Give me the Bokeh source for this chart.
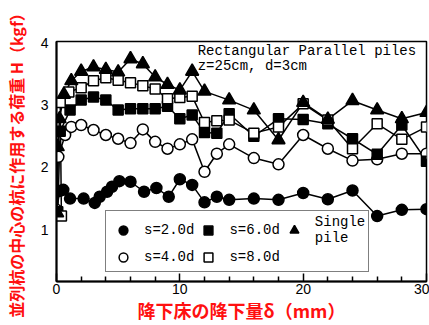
from bokeh.plotting import figure
from bokeh.models import Range1d, FixedTicker, Legend, LegendItem, Label
from bokeh.embed import file_html
from bokeh.resources import INLINE

# ---- data ----
s2_x = [0, 0.25, 0.55, 1.1, 2.2, 3.1, 3.5, 4.1, 4.5, 5.1, 6.0, 7.1, 8.1, 9.1, 10.0, 11.0, 12.0, 13.0, 14.0, 16.0, 18.0, 20.0, 22.0, 24.0, 26.0, 28.0, 30.0]
s2_y = [1.28, 1.62, 1.64, 1.50, 1.50, 1.43, 1.53, 1.61, 1.69, 1.78, 1.77, 1.61, 1.67, 1.53, 1.81, 1.72, 1.44, 1.53, 1.48, 1.50, 1.48, 1.59, 1.49, 1.63, 1.22, 1.32, 1.33]

s4_x = [0, 0.15, 0.7, 1.2, 2.0, 3.0, 4.0, 5.0, 6.0, 7.0, 8.0, 9.0, 10.0, 11.0, 12.0, 13.0, 14.0, 16.0, 18.0, 20.0, 22.0, 24.0, 26.0, 28.0, 30.0]
s4_y = [1.32, 2.17, 2.52, 2.65, 2.68, 2.60, 2.52, 2.46, 2.39, 2.61, 2.41, 2.30, 2.37, 2.45, 1.93, 2.22, 2.37, 2.15, 2.05, 2.52, 2.30, 2.11, 2.13, 2.22, 2.22]

s6_x = [0.1, 0.3, 1.1, 2.0, 3.0, 4.0, 5.0, 6.0, 7.0, 8.0, 9.0, 10.0, 11.0, 12.0, 13.0, 14.0, 16.0, 18.0, 20.0, 22.0, 24.0, 26.0, 28.0, 30.0]
s6_y = [1.29, 2.58, 2.92, 3.08, 3.13, 3.08, 2.92, 2.94, 2.94, 2.94, 2.98, 2.78, 2.84, 2.56, 2.55, 2.86, 2.50, 2.78, 2.77, 2.70, 2.46, 2.21, 2.68, 2.10]

s8_x = [0.4, 0.3, 1.0, 2.0, 3.0, 4.0, 5.0, 6.0, 7.0, 8.0, 9.0, 10.0, 11.0, 12.0, 13.0, 14.0, 16.0, 18.0, 20.0, 22.0, 24.0, 26.0, 28.0, 30.0]
s8_y = [1.22, 3.04, 3.21, 3.28, 3.39, 3.44, 3.40, 3.36, 3.31, 3.26, 3.10, 3.12, 3.14, 2.72, 2.75, 2.76, 2.55, 2.65, 3.02, 2.76, 2.30, 2.70, 2.45, 2.65]

single_x = [0.05, 0.1, 0.25, 0.6, 1.2, 2.0, 3.0, 4.0, 5.0, 6.0, 7.0, 8.0, 9.0, 10.0, 11.0, 12.0, 14.0, 16.0, 18.0, 20.0, 22.0, 24.0, 26.0, 28.0, 30.0]
single_y = [1.27, 2.33, 2.78, 3.17, 3.39, 3.54, 3.61, 3.57, 3.53, 3.74, 3.66, 3.45, 3.33, 3.24, 3.54, 3.22, 3.08, 2.92, 2.44, 3.04, 2.77, 3.07, 2.92, 2.78, 2.88]

x_major_ticks = [0, 10, 20, 30]
x_minor_ticks = [2, 4, 6, 8, 12, 14, 16, 18, 22, 24, 26, 28]
y_ticks = [1, 2, 3, 4]

x_label = "降下床の降下量δ（mm）"
y_label = "並列杭の中心の杭に作用する荷重 H（kgf）"
note1 = "Rectangular Parallel piles"
note2 = "z=25cm, d=3cm"

# ---- figure ----
p = figure(width=429, height=325, output_backend="svg", toolbar_location=None,
           x_range=Range1d(0, 30), y_range=Range1d(0.17, 4.02),
           min_border_left=55, min_border_right=3, min_border_top=41, min_border_bottom=44,
           background_fill_color="white", border_fill_color="white")
p.grid.visible = False
p.outline_line_color = "black"
p.outline_line_width = 1.5

xa = p.xaxis[0]
xa.ticker = FixedTicker(ticks=x_major_ticks, minor_ticks=x_minor_ticks)
xa.major_tick_in = 8
xa.major_tick_out = 0
xa.minor_tick_in = 5
xa.minor_tick_out = 0
xa.axis_line_width = 2
xa.major_tick_line_width = 1.5
xa.minor_tick_line_width = 1.5
xa.major_label_text_font = "Liberation Sans"
xa.major_label_text_font_size = "14px"
xa.major_label_text_color = "black"
xa.major_label_standoff = 2
xa.axis_label = x_label
xa.axis_label_text_font = "Noto Sans CJK JP"
xa.axis_label_text_font_size = "18px"
xa.axis_label_text_font_style = "bold"
xa.axis_label_text_color = "#ff1010"
xa.axis_label_standoff = 0

ya = p.yaxis[0]
ya.ticker = FixedTicker(ticks=y_ticks)
ya.major_tick_in = 0
ya.major_tick_out = 0
ya.minor_tick_in = 0
ya.minor_tick_out = 0
ya.axis_line_width = 2
ya.major_label_text_font = "Liberation Sans"
ya.major_label_text_font_size = "14px"
ya.major_label_text_color = "black"
ya.major_label_standoff = 8
ya.axis_label = y_label
ya.axis_label_text_font = "Noto Sans CJK JP"
ya.axis_label_text_font_size = "16px"
ya.axis_label_text_font_style = "bold"
ya.axis_label_text_color = "#ff1010"
ya.axis_label_standoff = 10

series = [
    (s2_x, s2_y, "circle", 11, "black"),
    (s4_x, s4_y, "circle", 11, "white"),
    (s6_x, s6_y, "square", 10, "black"),
    (s8_x, s8_y, "square", 10, "white"),
    (single_x, single_y, "triangle", 13, "black"),
]
for xs, ys, m, sz, fc in series:
    p.line(xs, ys, line_color="black", line_width=1.5)
marks = []
for xs, ys, m, sz, fc in series:
    r = p.scatter(xs, ys, marker=m, size=sz, fill_color=fc, line_color="black", line_width=1.5)
    marks.append(r)

legend = Legend(items=[
    LegendItem(label="s=2.0d", renderers=[marks[0]]),
    LegendItem(label="s=4.0d", renderers=[marks[1]]),
    LegendItem(label="s=6.0d", renderers=[marks[2]]),
    LegendItem(label="s=8.0d", renderers=[marks[3]]),
    LegendItem(label="Single\npile", renderers=[marks[4]]),
], nrows=2, orientation="vertical", location=(49, 9),
    glyph_width=28, glyph_height=22, label_height=20, label_standoff=7,
    spacing=0, padding=3, margin=0,
    label_text_font="Liberation Mono", label_text_font_size="14px", label_text_color="black",
    label_text_line_height=1.0,
    border_line_color="black", border_line_width=1.5, background_fill_alpha=1.0)
p.add_layout(legend, "center")

p.add_layout(Label(x=11.45, y=3.86, text=note1, text_font="Liberation Mono",
                   text_font_size="14px", text_baseline="middle", text_color="black"))
p.add_layout(Label(x=11.45, y=3.63, text=note2, text_font="Liberation Mono",
                   text_font_size="14px", text_baseline="middle", text_color="black"))

open("out.html", "w").write(file_html(p, INLINE))
